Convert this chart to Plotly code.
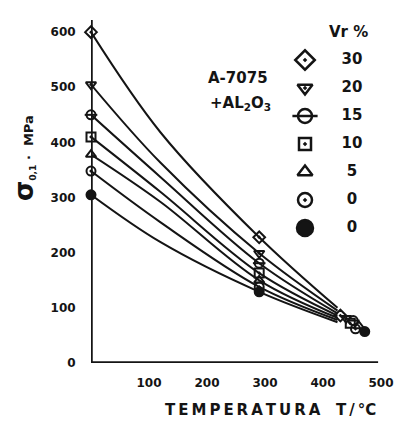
import plotly.graph_objects as go

# Yield strength sigma_0.1 (MPa) of A-7075 + Al2O3 versus temperature
vr_labels = ["30", "20", "15", "10", "5", "0", "0"]

temp_curve = [0, 120, 290, 425]
sigma_vr30 = [600, 418, 228, 100]
sigma_vr20 = [505, 363, 199, 95]
sigma_vr15 = [450, 337, 181, 90]
sigma_vr10 = [410, 310, 163, 86]
sigma_vr5 = [378, 292, 150, 82]
sigma_vr0a = [348, 255, 138, 78]
sigma_vr0b = [305, 219, 129, 74]

# measured points plotted near the high-temperature end
temp_end = [430, 440, 452, 447, 462, 456, 472]
sigma_end = [86, 81, 77, 72, 67, 62, 57]

x_ticks = [100, 200, 300, 400, 500]
y_ticks = [0, 100, 200, 300, 400, 500, 600]

curves = [sigma_vr30, sigma_vr20, sigma_vr15, sigma_vr10, sigma_vr5, sigma_vr0a, sigma_vr0b]
symbols = ["diamond-open-dot", "triangle-down-open-dot", "circle-open", "square-open-dot",
           "triangle-up-open", "circle-open-dot", "circle"]

W, H = 395, 421
INK = "#141414"
FONT = "DejaVu Sans"
PX_PER_DEG = 0.58

fig = go.Figure()

for i, ys in enumerate(curves):
    fig.add_trace(go.Scatter(
        x=temp_curve, y=ys, mode="lines",
        line=dict(color=INK, width=2, shape="spline", smoothing=1.0),
        showlegend=False, hoverinfo="skip"))
    mx = [temp_curve[0], temp_curve[2], temp_end[i]]
    my = [ys[0], ys[2], sigma_end[i]]
    fig.add_trace(go.Scatter(
        x=mx, y=my, mode="markers", cliponaxis=False,
        marker=dict(symbol=symbols[i], size=9, color=INK,
                    line=dict(color=INK, width=2)),
        showlegend=False, hoverinfo="skip"))
    if i == 2:
        fig.add_trace(go.Scatter(
            x=mx, y=my, mode="markers", cliponaxis=False,
            marker=dict(symbol="line-ew", size=9, line=dict(color=INK, width=2)),
            showlegend=False, hoverinfo="skip"))

# legend key drawn on a pixel-space overlay axis
rows = list(range(len(vr_labels)))
key_y = [60 + 28 * r for r in rows]
key_x = [305] * len(rows)
key_size = [15, 13, 14, 12, 13, 14, 16]
for r in rows:
    fig.add_trace(go.Scatter(
        x=[key_x[r]], y=[key_y[r]], mode="markers", xaxis="x2", yaxis="y2",
        marker=dict(symbol=symbols[r], size=key_size[r], color=INK,
                    line=dict(color=INK, width=2.5)),
        showlegend=False, hoverinfo="skip"))
    if r == 2:
        fig.add_trace(go.Scatter(
            x=[key_x[r]], y=[key_y[r]], mode="markers", xaxis="x2", yaxis="y2",
            marker=dict(symbol="line-ew", size=18, line=dict(color=INK, width=2.5)),
            showlegend=False, hoverinfo="skip"))
fig.add_trace(go.Scatter(
    x=[352] * len(rows), y=key_y, mode="text", text=vr_labels,
    xaxis="x2", yaxis="y2",
    textfont=dict(family=FONT, size=15, color=INK, weight="bold"),
    showlegend=False, hoverinfo="skip"))

# heavy hand-drawn style axis lines
fig.add_shape(type="line", xref="x", yref="y", x0=0, y0=0, x1=0, y1=622,
              line=dict(color=INK, width=3.5))
fig.add_shape(type="line", xref="x", yref="y", x0=0, y0=0, x1=495, y1=0,
              line=dict(color=INK, width=3.5))

x_max = 505
tick_font = dict(family=FONT, size=12, color=INK, weight="bold")
fig.update_layout(
    width=W, height=H,
    margin=dict(l=0, r=0, t=0, b=0),
    paper_bgcolor="white", plot_bgcolor="rgba(0,0,0,0)",
    showlegend=False,
    xaxis=dict(domain=[91 / W, (91 + x_max * PX_PER_DEG) / W], range=[0, x_max],
               tickvals=x_ticks, ticklabeloverflow="allow",
               showgrid=False, zeroline=False, showline=False,
               ticks="outside", ticklen=9, tickcolor="rgba(0,0,0,0)",
               tickfont=tick_font, automargin=False, anchor="y"),
    yaxis=dict(domain=[1 - 363 / H, 1 - 20 / H], range=[0, 622], tickvals=y_ticks,
               showgrid=False, zeroline=False, showline=False,
               ticks="outside", ticklen=12, tickcolor="rgba(0,0,0,0)",
               tickfont=tick_font, automargin=False, anchor="x"),
    xaxis2=dict(domain=[0, 1], range=[0, W], visible=False, anchor="y2"),
    yaxis2=dict(domain=[0, 1], range=[H, 0], visible=False, anchor="x2"),
)

ann_font = dict(family=FONT, size=15, color=INK, weight="bold")


def label(px, py, text, font, angle=0):
    fig.add_annotation(xref="paper", yref="paper", x=px / W, y=1 - py / H,
                       xanchor="center", yanchor="middle", textangle=angle,
                       text=text, showarrow=False, font=font)


label(348, 32, "Vr %", ann_font)
label(238, 78, "A-7075", ann_font)
label(240, 104, "+AL<sub>2</sub>O<sub>3</sub>", ann_font)
label(24, 158, "<span style='font-size:26px'>σ</span><sub>0,1</sub> ·  MPa",
      dict(family=FONT, size=13, color=INK, weight="bold"), angle=-90)
label(270, 410,
      "T\u2009E\u2009M\u2009P\u2009E\u2009R\u2009A\u2009T\u2009U\u2009R\u2009A   T\u2009/\u2009°C",
      dict(family=FONT, size=15, color=INK, weight="bold"))

fig.write_html("out.html")
